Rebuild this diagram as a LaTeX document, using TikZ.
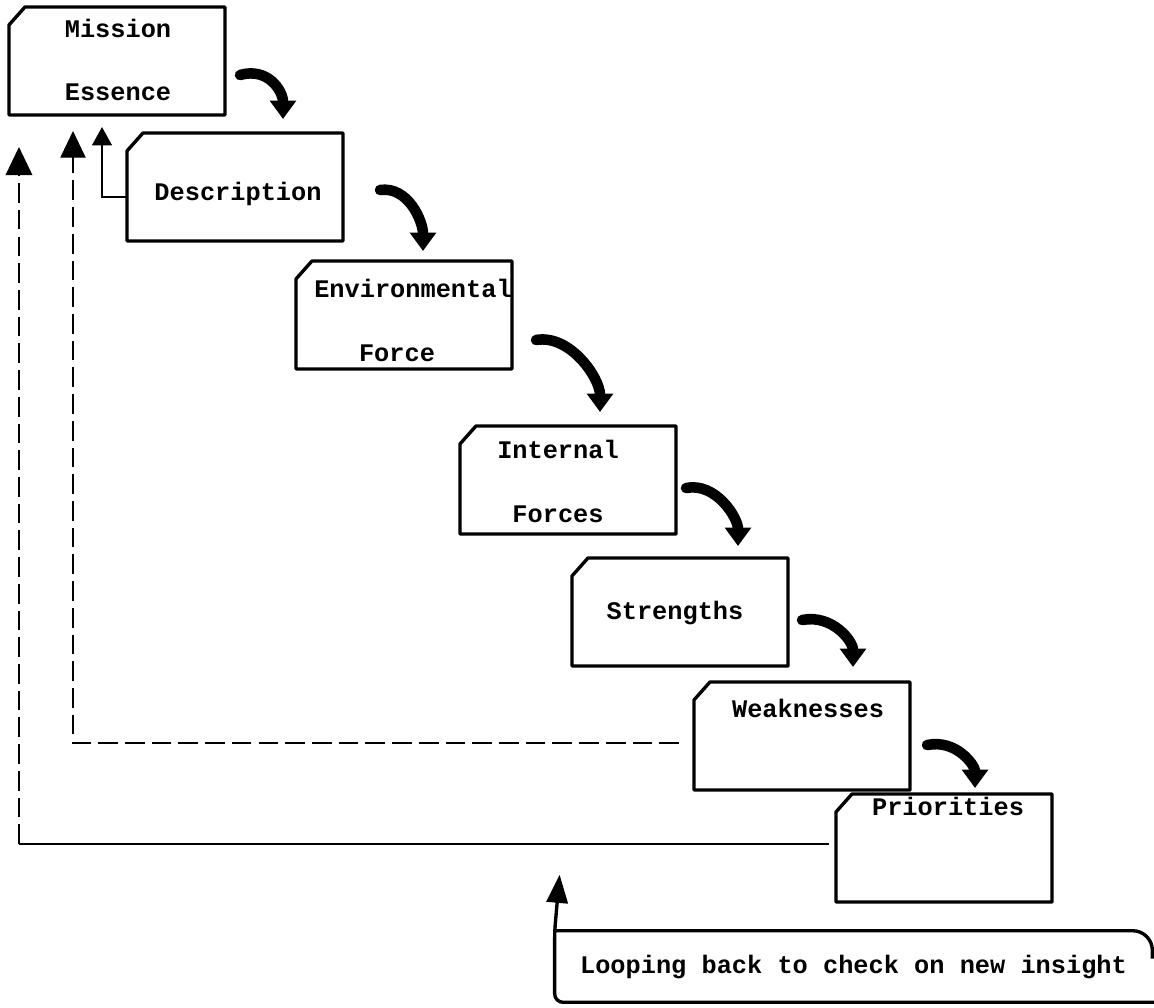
\documentclass[tikz,border=0pt]{standalone}
\usepackage{fontspec}
\newfontfamily\typefont{Liberation Mono}
\usetikzlibrary{calc}
\usetikzlibrary{positioning}
\usetikzlibrary{arrows.meta}
\newcommand{\stagefont}{\typefont\bfseries\fontsize{18pt}{20pt}\selectfont}
\tikzstyle{stagebox} = [rectangle, minimum width=5.4cm, minimum height=2.7cm, inner sep=0pt, outer sep=0pt]
\tikzstyle{boxline} = [line width=2.4pt, line join=round]
\tikzstyle{stagetext} = [font=\stagefont, text height=1.5ex, text depth=.25ex, inner sep=0pt]
\tikzstyle{nextarrow} = [line width=7.5pt, line cap=round, -{Triangle[length=13pt,width=18pt]}]
\tikzstyle{backline} = [line width=1pt, dash pattern=on 14pt off 5pt]

\begin{document}
\begin{tikzpicture}[x=0.025cm, y=-0.025cm]
\useasboundingbox (0,0) rectangle (1154,1007);
% the seven stages
\node[stagebox] (mission) at (117,61) {};
\node[stagebox] (desc) at ($(mission)+(118,126)$) {};
\node[stagebox] (env) at ($(desc)+(169,128)$) {};
\node[stagebox] (int) at ($(env)+(164,165)$) {};
\node[stagebox] (str) at ($(int)+(112,132)$) {};
\node[stagebox] (weak) at ($(str)+(122,124)$) {};
\node[stagebox] (prio) at ($(weak)+(142,112)$) {};
\foreach \b in {mission,desc,env,int,str,weak,prio}
  \draw[boxline] ($(\b.north west)+(0,18)$) -- ($(\b.north west)+(16,0)$) -- (\b.north east) -- (\b.south east) -- (\b.south west) -- cycle;

\node[stagetext] (mission_top) at ($(mission)+(1,-27)$) {Mission};
\node[stagetext] (mission_bot) at ($(mission)+(1,36)$) {Essence};
\node[stagetext] (desc_txt) at ($(desc)+(3,10)$) {Description};
\node[stagetext] (env_top) at ($(env)+(9,-21)$) {Environmental};
\node[stagetext] (env_bot) at ($(env)+(-7,43)$) {Force};
\node[stagetext] (int_top) at ($(int)+(-10,-25)$) {Internal};
\node[stagetext] (int_bot) at ($(int)+(-10,39)$) {Forces};
\node[stagetext] (str_txt) at ($(str)+(-5,4)$) {Strengths};
\node[stagetext] (weak_txt) at ($(weak)+(6,-22)$) {Weaknesses};
\node[stagetext] (prio_txt) at ($(prio)+(4,-36)$) {Priorities};

% step arrows
\draw[nextarrow] ($(mission.east)+(15,14)$) .. controls +(28,-8) and +(0,-28) .. ($(desc.north)+(48,-14)$);
\draw[nextarrow] ($(desc.east)+(37,3)$) .. controls +(28,-4) and +(0,-30) .. ($(env.north)+(19,-10)$);
\draw[nextarrow] ($(env.east)+(24,25)$) .. controls +(34,-6) and +(0,-34) .. ($(int.north)+(32,-14)$);
\draw[nextarrow] ($(int.east)+(10,8)$) .. controls +(30,-6) and +(0,-28) .. ($(str.north)+(58,-12)$);
\draw[nextarrow] ($(str.east)+(14,8)$) .. controls +(30,-6) and +(0,-26) .. ($(weak.north)+(51,-15)$);
\draw[nextarrow] ($(weak.east)+(17,9)$) .. controls +(30,-6) and +(0,-22) .. ($(prio.north)+(31,-6)$);

% looping back
\coordinate (fbone) at ($(mission.south)+(-15,12)$);
\draw[line width=1.5pt, -{Triangle[length=13pt,width=14pt]}] ($(desc.west)+(0,10)$) -| (fbone);

\coordinate (fbtwo) at ($(mission.south)+(-44,16)$);
\draw[backline, -{Triangle[length=19pt,width=18pt]}] ($(weak.west)+(-15,7)$) -| (fbtwo);

\coordinate (fbthree) at ($(mission.south west)+(10,32)$);
\coordinate (prioin) at ($(prio.west)+(-7,-4)$);
\coordinate (fbcorner) at (fbthree |- prioin);
\draw[line width=1.2pt] (prioin) -- (fbcorner);
\draw[backline, -{Triangle[length=20pt,width=19pt]}] (fbcorner) -- (fbthree);

\node[font=\stagefont, minimum width=14.925cm, minimum height=1.775cm, inner sep=0pt] (loop) at ($(prio)+(-90.5,118.5)$) {Looping back to check on new insight};
\coordinate (insight) at ($(loop.north west)+(5,-56)$);
\draw[line width=2.4pt, rounded corners=6pt, -{Triangle[length=20pt,width=15pt]}] ($(loop.south east)+(10,0)$) -- (loop.south west) -- (loop.north west) -- (insight);
\draw[line width=2.4pt, rounded corners=14pt] (loop.north west) -- (loop.north east) -- ($(loop.north east)+(0,28)$);
\end{tikzpicture}
\end{document}
